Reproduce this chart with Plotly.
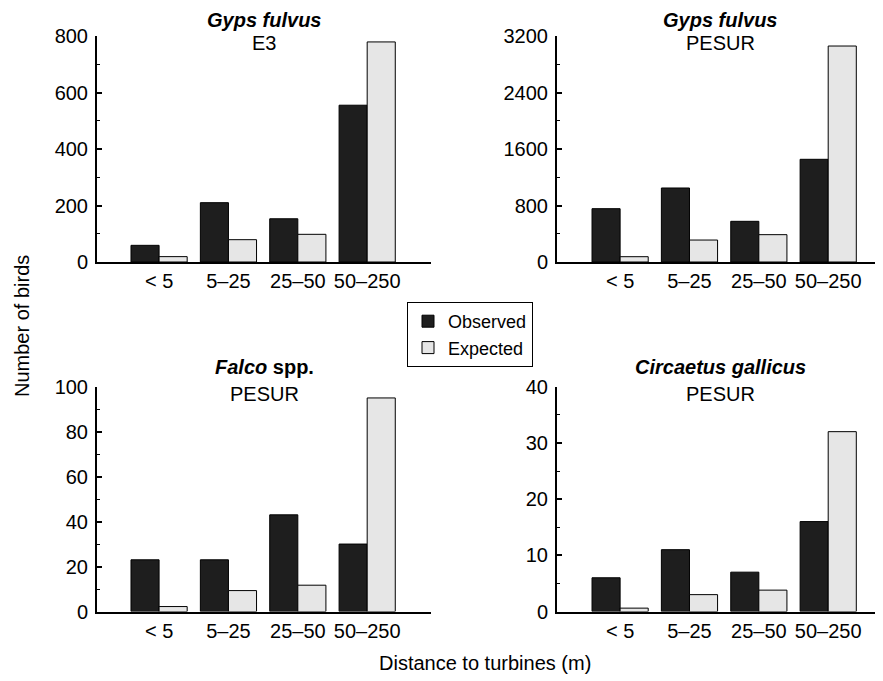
import plotly.graph_objects as go

categories = ["< 5", "5\u201325", "25\u201350", "50\u2013250"]

gyps_e3_observed = [59, 210, 153, 555]
gyps_e3_expected = [19, 79, 98, 779]

gyps_pesur_observed = [755, 1048, 576, 1454]
gyps_pesur_expected = [75, 311, 387, 3058]

falco_observed = [23, 23, 43, 30]
falco_expected = [2.2, 9.3, 11.7, 95]

circaetus_observed = [6, 11, 7, 16]
circaetus_expected = [0.6, 3.0, 3.8, 32]

panel_titles = [
    ("<b><i>Gyps fulvus</i></b>", "E3"),
    ("<b><i>Gyps fulvus</i></b>", "PESUR"),
    ("<b><i>Falco</i> spp.</b>", "PESUR"),
    ("<b><i>Circaetus gallicus</i></b>", "PESUR"),
]
y_ranges = [800, 3200, 100, 40]
y_major = [200, 800, 20, 10]

# page offset (browser body margin) compensation
OFF = 8
W, H = 883 - OFF, 681 - OFF
FONT = "Liberation Sans, Arial, Helvetica, sans-serif"
OBS_COLOR = "#1e1e1e"
EXP_COLOR = "#e6e6e6"


def fx(p):
    return (p - OFF) / W


def fy(p):
    return 1 - (p - OFF) / H


panels = [
    (gyps_e3_observed, gyps_e3_expected),
    (gyps_pesur_observed, gyps_pesur_expected),
    (falco_observed, falco_expected),
    (circaetus_observed, circaetus_expected),
]

# screen-pixel layout of each panel: (x_left, x_right, y_top, y_bottom, xrange)
px = [
    (97, 431, 36, 262, [-0.895, 3.92]),
    (557, 883, 36, 262, [-0.91, 3.79]),
    (97, 431, 386.7, 611.5, [-0.895, 3.92]),
    (557, 883, 386.7, 611.5, [-0.91, 3.79]),
]

fig = go.Figure()
layout = {}
annotations = []
for i, ((obs, exp), (xl, xr, yt, yb, xr_rng)) in enumerate(zip(panels, px)):
    n = "" if i == 0 else str(i + 1)
    xa, ya = "x" + n, "y" + n
    fig.add_trace(go.Bar(
        x=categories, y=obs, name="Observed", xaxis=xa, yaxis=ya,
        marker=dict(color=OBS_COLOR, line=dict(color="#000000", width=1)),
        showlegend=(i == 0), legendgroup="obs",
    ))
    fig.add_trace(go.Bar(
        x=categories, y=exp, name="Expected", xaxis=xa, yaxis=ya,
        marker=dict(color=EXP_COLOR, line=dict(color="#000000", width=1)),
        showlegend=(i == 0), legendgroup="exp",
    ))
    layout["xaxis" + n] = dict(
        domain=[fx(xl), min(1.0, fx(xr))], anchor=ya, range=xr_rng,
        type="category", categoryorder="array", categoryarray=categories,
        showline=True, linecolor="black", linewidth=2, ticks="",
        showgrid=False, zeroline=False, automargin=False,
        tickfont=dict(family=FONT, size=20, color="black"),
    )
    layout["yaxis" + n] = dict(
        domain=[fy(yb), fy(yt)], anchor=xa,
        range=[0, y_ranges[i]], dtick=y_major[i], tick0=0,
        showline=True, linecolor="black", linewidth=2,
        ticks="inside", ticklen=5, tickwidth=1.5, tickcolor="black",
        minor=dict(dtick=y_major[i] / 2, ticks="inside", ticklen=3, tickcolor="black", tickwidth=1),
        showgrid=False, zeroline=False, automargin=False,
        ticklabelstandoff=3,
        tickfont=dict(family=FONT, size=20, color="black"),
    )
    cx = fx((xl + xr) / 2)
    t1, t2 = panel_titles[i]
    if i < 2:
        t1_y, t1_anchor = 1.0, "top"
    else:
        t1_y, t1_anchor = fy(yt - 20), "middle"
    annotations.append(dict(
        text=t1, x=cx, y=t1_y, xref="paper", yref="paper",
        xanchor="center", yanchor=t1_anchor, showarrow=False, borderpad=0,
        font=dict(family=FONT, size=20, color="black"),
    ))
    annotations.append(dict(
        text=t2, x=cx, y=fy(yt + 7), xref="paper", yref="paper",
        xanchor="center", yanchor="middle", showarrow=False,
        font=dict(family=FONT, size=20, color="black"),
    ))

annotations.append(dict(
    text="Number of birds", x=fx(22), y=fy(326), xref="paper", yref="paper",
    xanchor="center", yanchor="middle", textangle=-90, showarrow=False,
    font=dict(family=FONT, size=20, color="black"),
))
annotations.append(dict(
    text="Distance to turbines (m)", x=fx(485), y=fy(663), xref="paper", yref="paper",
    xanchor="center", yanchor="middle", showarrow=False,
    font=dict(family=FONT, size=20, color="black"),
))

fig.update_layout(
    template="none",
    width=W, height=H,
    margin=dict(l=0, r=0, t=0, b=0),
    paper_bgcolor="white", plot_bgcolor="white",
    barmode="group", bargap=0.19, bargroupgap=0,
    annotations=annotations,
    legend=dict(
        x=fx(407), y=fy(302), xanchor="left", yanchor="top",
        bordercolor="black", borderwidth=1, bgcolor="white",
        font=dict(family=FONT, size=18, color="black"),
        traceorder="normal", itemwidth=30, tracegroupgap=2,
    ),
    **layout,
)

fig.write_html("out.html")
